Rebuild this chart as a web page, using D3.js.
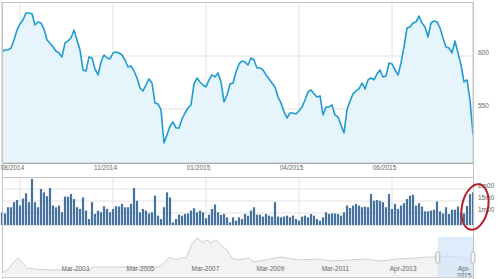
<!DOCTYPE html>
<html>
<head>
<meta charset="utf-8">
<script src="https://cdnjs.cloudflare.com/ajax/libs/d3/7.8.5/d3.min.js"></script>
<style>
body { margin: 0; background: #fff; }
svg { display: block; font-family: "DejaVu Sans", Verdana, sans-serif; }
</style>
</head>
<body>
<svg width="500" height="279"></svg>
<script>
// daily close
var price = [
  603.8,605.7,605.7,607.5,615.1,624.5,630.2,634.0,640.6,640.6,
  639.8,629.2,632.1,631.1,625.5,615.1,612.3,608.5,604.7,602.8,
  599.1,612.3,614.2,617.0,624.5,615.1,605.7,586.8,585.8,599.1,
  598.1,587.7,582.1,594.3,600.9,598.1,597.2,602.8,603.8,602.8,
  600.9,596.2,589.6,590.6,585.8,579.2,569.8,567.0,572.6,578.3,
  574.5,555.7,554.7,549.1,517.9,525.5,534.0,537.7,532.1,532.1,
  540.6,546.2,550.9,553.8,573.6,579.2,575.5,572.6,570.8,577.4,
  582.1,580.2,584.0,575.5,556.6,563.2,573.6,574.5,584.9,592.5,
  595.3,594.3,591.5,598.1,596.2,588.7,588.7,586.8,582.1,578.3,
  574.5,570.8,561.3,555.7,547.2,541.5,546.2,546.2,545.3,548.1,
  551.9,558.5,566.0,568.0,564.2,561.3,562.3,544.3,551.9,551.9,
  553.8,544.3,542.5,534.9,527.4,549.1,557.5,564.2,567.0,568.9,
  574.5,568.9,577.4,579.2,577.4,583.0,586.8,580.2,581.1,593.4,
  592.5,586.8,582.1,593.4,608.5,626.4,627.4,631.1,632.1,637.7,
  631.1,627.4,617.9,631.1,633.0,632.1,626.4,617.0,608.5,607.5,
  602.8,614.2,602.8,591.5,575.5,577.4,558.5,525.5
];

// volume in millions, same days
var volume = [
  1.03,0.98,1.24,1.24,1.45,1.54,1.31,1.60,1.82,1.45,
  2.42,1.45,1.24,2.00,1.86,1.70,2.04,1.31,1.24,1.31,
  1.03,1.68,1.68,1.79,1.58,1.24,1.17,1.65,1.10,0.75,
  1.45,0.96,1.10,1.03,1.28,1.17,1.03,1.17,1.28,1.27,
  1.38,1.24,1.24,1.38,2.04,1.51,1.03,1.17,1.10,0.98,
  1.03,1.72,0.89,0.75,1.24,1.86,1.65,0.61,0.75,0.93,
  0.89,0.96,0.98,1.10,1.20,1.03,1.10,1.03,0.78,0.93,
  1.17,1.35,1.03,0.92,0.96,0.82,0.61,0.82,0.68,0.82,
  0.75,0.96,0.89,1.10,1.24,0.93,0.93,0.85,0.96,0.89,
  0.85,1.45,0.85,0.82,0.85,0.89,0.82,0.89,0.75,0.68,
  0.85,0.89,0.82,0.96,0.89,0.75,0.68,0.82,1.03,0.96,
  0.98,0.98,0.96,0.89,1.03,1.31,1.21,1.31,1.38,1.31,
  1.24,1.27,1.24,1.79,1.51,1.54,1.51,1.45,1.24,1.79,
  1.17,1.38,1.17,1.31,1.41,1.58,1.72,1.76,1.31,1.41,
  1.27,1.07,1.07,1.10,1.14,1.48,1.07,0.98,1.24,0.96,
  1.14,1.14,1.27,1.03,0.98,1.29,1.79,1.86
];

var dateTickIdx = [6, 37, 68, 99, 130];
var dateTickLabels = ["08/2014", "11/2014", "01/2015", "04/2015", "06/2015"];
var priceTicks = [550, 600];
var volTicks = [1, 1.5, 2];
var volTickLabels = ["1m00", "15m0", "2m00"];

// long history for the navigator
var navDates = ["2000-12","2001-03","2001-04","2001-06","2001-08","2001-09","2001-12","2002-05",
  "2003-01","2003-08","2003-10","2004-03","2004-11","2005-06","2005-10","2005-12","2006-02",
  "2006-04","2006-06","2006-08","2006-10","2006-12","2007-02","2007-04","2007-05","2007-07",
  "2007-09","2007-11","2008-01","2008-03","2008-07","2008-09","2009-01","2009-07","2010-02",
  "2010-08","2011-02","2011-08","2012-02","2012-08","2013-02","2013-09","2014-01","2014-05",
  "2014-09","2015-03","2015-06"];
var navValues = [71,247,424,601,389,247,212,177,
  177,177,283,283,283,283,283,460,636,
  530,601,601,1060,1308,1166,1237,1131,1237,
  1060,884,601,530,601,460,530,636,530,
  566,495,530,566,495,566,601,636,636,
  672,601,530];
var navTicks = ["2003-03","2005-03","2007-03","2009-03","2011-03","2013-04","2015-04"];
var navRange = ["2014-05","2015-06"];

var svg = d3.select("svg");
var left = 2, right = 473;
var parseMonth = d3.timeParse("%Y-%m");

var x = d3.scaleLinear().domain([0, price.length - 1]).range([left, right]);
var y = d3.scaleLinear().domain([499, 650]).range([163, 3]);
var yv = d3.scaleLinear().domain([0.5, 2.5]).range([225, 177]);
var xn = d3.scaleTime().domain(d3.extent(navDates, parseMonth)).range([left, right]);
var yn = d3.scaleLinear().domain([0, 1400]).range([275, 235.4]);

var gridColor = "#e2e2e2";

// grid, price panel
svg.append("g").selectAll("line").data(priceTicks).join("line")
    .attr("x1", left).attr("x2", right)
    .attr("y1", d => y(d)).attr("y2", d => y(d))
    .attr("stroke", gridColor);
svg.append("g").selectAll("line").data(dateTickIdx).join("line")
    .attr("x1", d => x(d)).attr("x2", d => x(d))
    .attr("y1", 3).attr("y2", 163)
    .attr("stroke", gridColor);

// area + line
svg.append("path")
    .datum(price)
    .attr("fill", "#e6f5fc")
    .attr("d", d3.area().x((d, i) => x(i)).y0(163).y1(d => y(d)));
svg.append("path")
    .datum(price)
    .attr("fill", "none")
    .attr("stroke", "#1f9bd1")
    .attr("stroke-width", 1.6)
    .attr("stroke-linejoin", "round")
    .attr("d", d3.line().x((d, i) => x(i)).y(d => y(d)));

// grid, volume panel
svg.append("g").selectAll("line").data(volTicks).join("line")
    .attr("x1", left).attr("x2", right)
    .attr("y1", d => yv(d)).attr("y2", d => yv(d))
    .attr("stroke", gridColor);
svg.append("g").selectAll("line").data(dateTickIdx).join("line")
    .attr("x1", d => x(d)).attr("x2", d => x(d))
    .attr("y1", 177).attr("y2", 225)
    .attr("stroke", gridColor);

svg.append("g").selectAll("rect").data(volume).join("rect")
    .attr("x", (d, i) => x(i) - 1.1)
    .attr("width", 2.2)
    .attr("y", d => yv(d))
    .attr("height", d => yv(0.5) - yv(d))
    .attr("fill", "#46729f");

// frames
svg.append("rect").attr("x", left).attr("y", 2.5).attr("width", right - left).attr("height", 160.5)
    .attr("fill", "none").attr("stroke", "#c4c4c4");
svg.append("line").attr("x1", left).attr("x2", right).attr("y1", 163.5).attr("y2", 163.5).attr("stroke", "#a8a8a8");
svg.append("line").attr("x1", left).attr("x2", right).attr("y1", 177.5).attr("y2", 177.5).attr("stroke", "#c4c4c4");
svg.append("line").attr("x1", left).attr("x2", right).attr("y1", 225.5).attr("y2", 225.5).attr("stroke", "#e4e4e4");
svg.append("line").attr("x1", left + 0.5).attr("x2", left + 0.5).attr("y1", 2).attr("y2", 279).attr("stroke", "#c4c4c4");
svg.append("line").attr("x1", right + 0.5).attr("x2", right + 0.5).attr("y1", 2).attr("y2", 279).attr("stroke", "#c4c4c4");

// axes labels
var fs = "6.5px", txt = "#666";

var gDate = svg.append("g").attr("transform", "translate(0,163)")
    .call(d3.axisBottom(x).tickValues(dateTickIdx).tickFormat((d, i) => dateTickLabels[i]).tickSize(0).tickPadding(2.5));
gDate.select(".domain").remove();
gDate.selectAll("text").attr("x", -8).attr("fill", txt).style("font-size", fs);

var gPrice = svg.append("g").attr("transform", "translate(475,0)")
    .call(d3.axisRight(y).tickValues(priceTicks).tickSize(0).tickPadding(3));
gPrice.select(".domain").remove();
gPrice.selectAll("text").attr("y", -3.5).attr("fill", txt).style("font-size", fs);

var gVol = svg.append("g").attr("transform", "translate(475,0)")
    .call(d3.axisRight(yv).tickValues(volTicks).tickFormat((d, i) => volTickLabels[i]).tickSize(0).tickPadding(3));
gVol.select(".domain").remove();
gVol.selectAll("text").attr("y", -3.5).attr("fill", txt).style("font-size", fs);

// navigator
var navData = navDates.map((d, i) => ({ date: parseMonth(d), v: navValues[i] }));
svg.append("path")
    .datum(navData)
    .attr("fill", "#f3f3f3")
    .attr("d", d3.area().x(d => xn(d.date)).y0(277).y1(d => yn(d.v)));
svg.append("path")
    .datum(navData)
    .attr("fill", "none")
    .attr("stroke", "#cfcfcf")
    .attr("stroke-width", 1)
    .attr("d", d3.line().x(d => xn(d.date)).y(d => yn(d.v)));

var s0 = xn(parseMonth(navRange[0])), s1 = xn(parseMonth(navRange[1]));
svg.append("rect").attr("x", s0).attr("y", 237).attr("width", s1 - s0).attr("height", 40)
    .attr("fill", "#cfe5fa").attr("fill-opacity", 0.7);

var gNav = svg.append("g").attr("transform", "translate(0,264)")
    .call(d3.axisBottom(xn).tickValues(navTicks.map(parseMonth)).tickFormat(d3.timeFormat("%b-%Y")).tickSize(0).tickPadding(2.7));
gNav.select(".domain").remove();
gNav.selectAll("text").attr("fill", txt).style("font-size", fs);
// last label wraps at the edge
gNav.selectAll("text").filter((d, i) => i === navTicks.length - 1)
    .text(null)
    .call(t => {
      t.append("tspan").attr("x", -4).text("Apr-");
      t.append("tspan").attr("x", -4).attr("dy", "1.05em").text("2015");
    });

svg.append("line").attr("x1", left).attr("x2", right).attr("y1", 277.5).attr("y2", 277.5).attr("stroke", "#cfcfcf");

// handles
svg.append("g").selectAll("rect").data([s0, s1]).join("rect")
    .attr("x", d => d - 2).attr("y", 252).attr("width", 4).attr("height", 11)
    .attr("rx", 1.5)
    .attr("fill", "#f4f4f4").attr("stroke", "#a9a9a9").attr("stroke-width", 0.8);

// red highlight ring
svg.append("ellipse")
    .attr("transform", "translate(475,207) rotate(12)")
    .attr("rx", 13).attr("ry", 23)
    .attr("fill", "none")
    .attr("stroke", "#b5202a")
    .attr("stroke-width", 2);
</script>
</body>
</html>
